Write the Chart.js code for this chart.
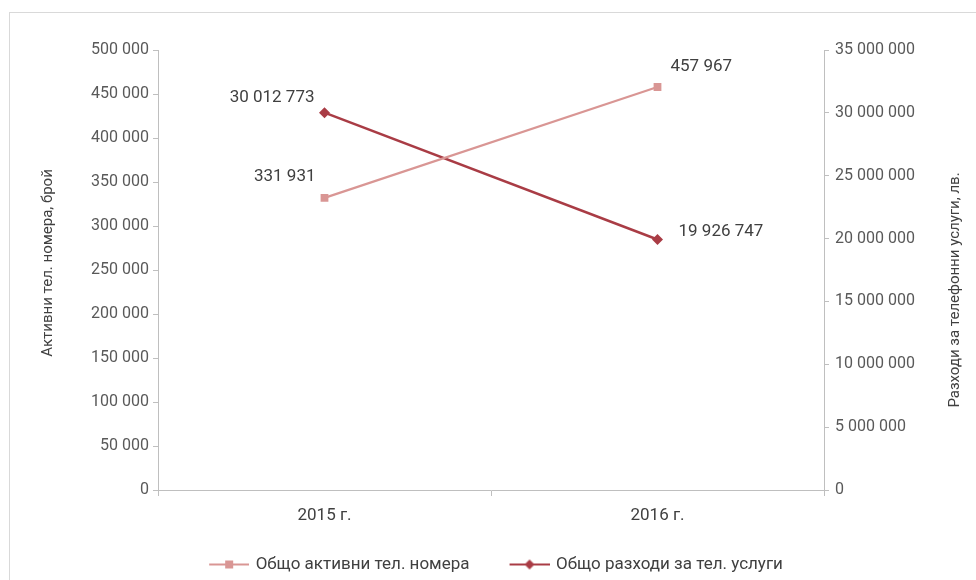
<!DOCTYPE html>
<html><head><meta charset="utf-8">
<script src="https://cdn.jsdelivr.net/npm/chart.js@4.4.1/dist/chart.umd.min.js"></script>
<style>html,body{margin:0;padding:0;background:#fff;}canvas{display:block}</style>
</head><body>
<canvas id="c" width="976" height="580"></canvas>
<script>
const categories = ['2015 г.', '2016 г.'];
const activeNumbers = [331931, 457967];
const phoneCosts = [30012773, 19926747];
const seriesNames = ['Общо активни тел. номера', 'Общо разходи за тел. услуги'];
const leftAxisTitle = 'Активни тел. номера, брой';
const rightAxisTitle = 'Разходи за телефонни услуги, лв.';
const leftTickRange = [0, 500000, 50000];
const rightTickRange = [0, 35000000, 5000000];

const FONT = 'Roboto';
const colors = ['#D99694', '#A93C45'];
const fmt = v => String(Math.round(v)).replace(/\B(?=(\d{3})+(?!\d))/g, ' ');

// legend symbol: transparent lead-in (item spacing) + line with marker
function legendImg(color, shape) {
  const c = document.createElement('canvas');
  c.width = 54; c.height = 12;
  const g = c.getContext('2d');
  const x0 = 14, cx = x0 + 20;
  g.strokeStyle = color; g.lineWidth = 2.2;
  g.beginPath(); g.moveTo(x0, 6); g.lineTo(54, 6); g.stroke();
  g.fillStyle = color;
  if (shape === 'rect') { g.fillRect(cx - 4, 2, 8, 8); }
  else { g.beginPath(); g.moveTo(cx, 1); g.lineTo(cx + 5, 6); g.lineTo(cx, 11); g.lineTo(cx - 5, 6); g.closePath(); g.fill(); }
  return c;
}
const legendImgs = [legendImg(colors[0], 'rect'), legendImg(colors[1], 'diamond')];

// label offsets relative to each point [dx, dy, align]
const labelPlacement = [
  [[-9, -21, 'right'], [13, -20, 'left']],
  [[-10, -15, 'right'], [21, -8, 'left']]
];

const extras = {
  id: 'extras',
  beforeDraw(chart) {
    const ctx = chart.ctx;
    ctx.save();
    ctx.strokeStyle = '#d9d9d9'; ctx.lineWidth = 1;
    ctx.strokeRect(9.5, 12.5, 1000, 600);
    ctx.restore();
  },
  afterDatasetsDraw(chart) {
    const ctx = chart.ctx;
    ctx.save();
    ctx.font = '17px ' + FONT;
    ctx.fillStyle = '#404040';
    ctx.textBaseline = 'middle';
    chart.data.datasets.forEach((ds, di) => {
      chart.getDatasetMeta(di).data.forEach((pt, i) => {
        const p = labelPlacement[di][i];
        ctx.textAlign = p[2];
        ctx.fillText(fmt(ds.data[i]), pt.x + p[0], pt.y + p[1]);
      });
    });
    // axis titles
    ctx.font = '15px ' + FONT;
    ctx.fillStyle = '#404040';
    ctx.textAlign = 'center';
    const ca = chart.chartArea;
    ctx.save();
    ctx.translate(48, (ca.top + ca.bottom) / 2 - 7);
    ctx.rotate(-Math.PI / 2);
    ctx.fillText(leftAxisTitle, 0, 0);
    ctx.restore();
    ctx.save();
    ctx.translate(955, (ca.top + ca.bottom) / 2 + 20);
    ctx.rotate(-Math.PI / 2);
    ctx.fillText(rightAxisTitle, 0, 0);
    ctx.restore();
    ctx.restore();
  }
};

const axisColor = '#bfbfbf';
new Chart(document.getElementById('c'), {
  type: 'line',
  data: {
    labels: categories,
    datasets: [
      { label: seriesNames[0], data: activeNumbers, yAxisID: 'y', borderColor: colors[0], backgroundColor: colors[0],
        borderWidth: 2.2, pointStyle: 'rect', pointRadius: 5.5, pointBorderWidth: 0, tension: 0 },
      { label: seriesNames[1], data: phoneCosts, yAxisID: 'y1', borderColor: colors[1], backgroundColor: colors[1],
        borderWidth: 2.5, pointStyle: 'rectRot', pointRadius: 5.5, pointBorderWidth: 0, tension: 0 }
    ]
  },
  options: {
    responsive: false,
    animation: false,
    devicePixelRatio: 1,
    layout: { padding: { left: 18, right: 14, top: 50, bottom: -3 } },
    plugins: {
      tooltip: { enabled: false },
      legend: {
        position: 'bottom',
        labels: {
          usePointStyle: true,
          pointStyleWidth: 50,
          padding: 28,
          color: '#404040',
          font: { family: FONT, size: 17 },
          generateLabels(chart) {
            const items = Chart.defaults.plugins.legend.labels.generateLabels(chart);
            items.forEach((it) => { it.pointStyle = legendImgs[it.datasetIndex]; });
            return items;
          }
        }
      }
    },
    scales: {
      x: {
        type: 'category',
        offset: true,
        grid: { offset: true, drawOnChartArea: false, tickLength: 6, color: axisColor },
        border: { color: axisColor, width: 1 },
        ticks: { padding: 10, color: '#404040', font: { family: FONT, size: 17 } },
        afterFit(s) { s.height = 38; }
      },
      y: {
        position: 'left',
        min: leftTickRange[0], max: leftTickRange[1],
        grid: { drawOnChartArea: false, tickLength: 5, color: axisColor },
        border: { color: axisColor },
        ticks: { stepSize: leftTickRange[2], padding: 4, color: '#595959', font: { family: FONT, size: 16 }, callback: v => fmt(v) },
        afterFit(s) { s.width = 140; }
      },
      y1: {
        position: 'right',
        min: rightTickRange[0], max: rightTickRange[1],
        grid: { drawOnChartArea: false, tickLength: 5, color: axisColor },
        border: { color: axisColor },
        ticks: { stepSize: rightTickRange[2], padding: 6, color: '#595959', font: { family: FONT, size: 16 }, callback: v => fmt(v) },
        afterFit(s) { s.width = 138; }
      }
    }
  },
  plugins: [extras]
});
</script>
</body></html>
